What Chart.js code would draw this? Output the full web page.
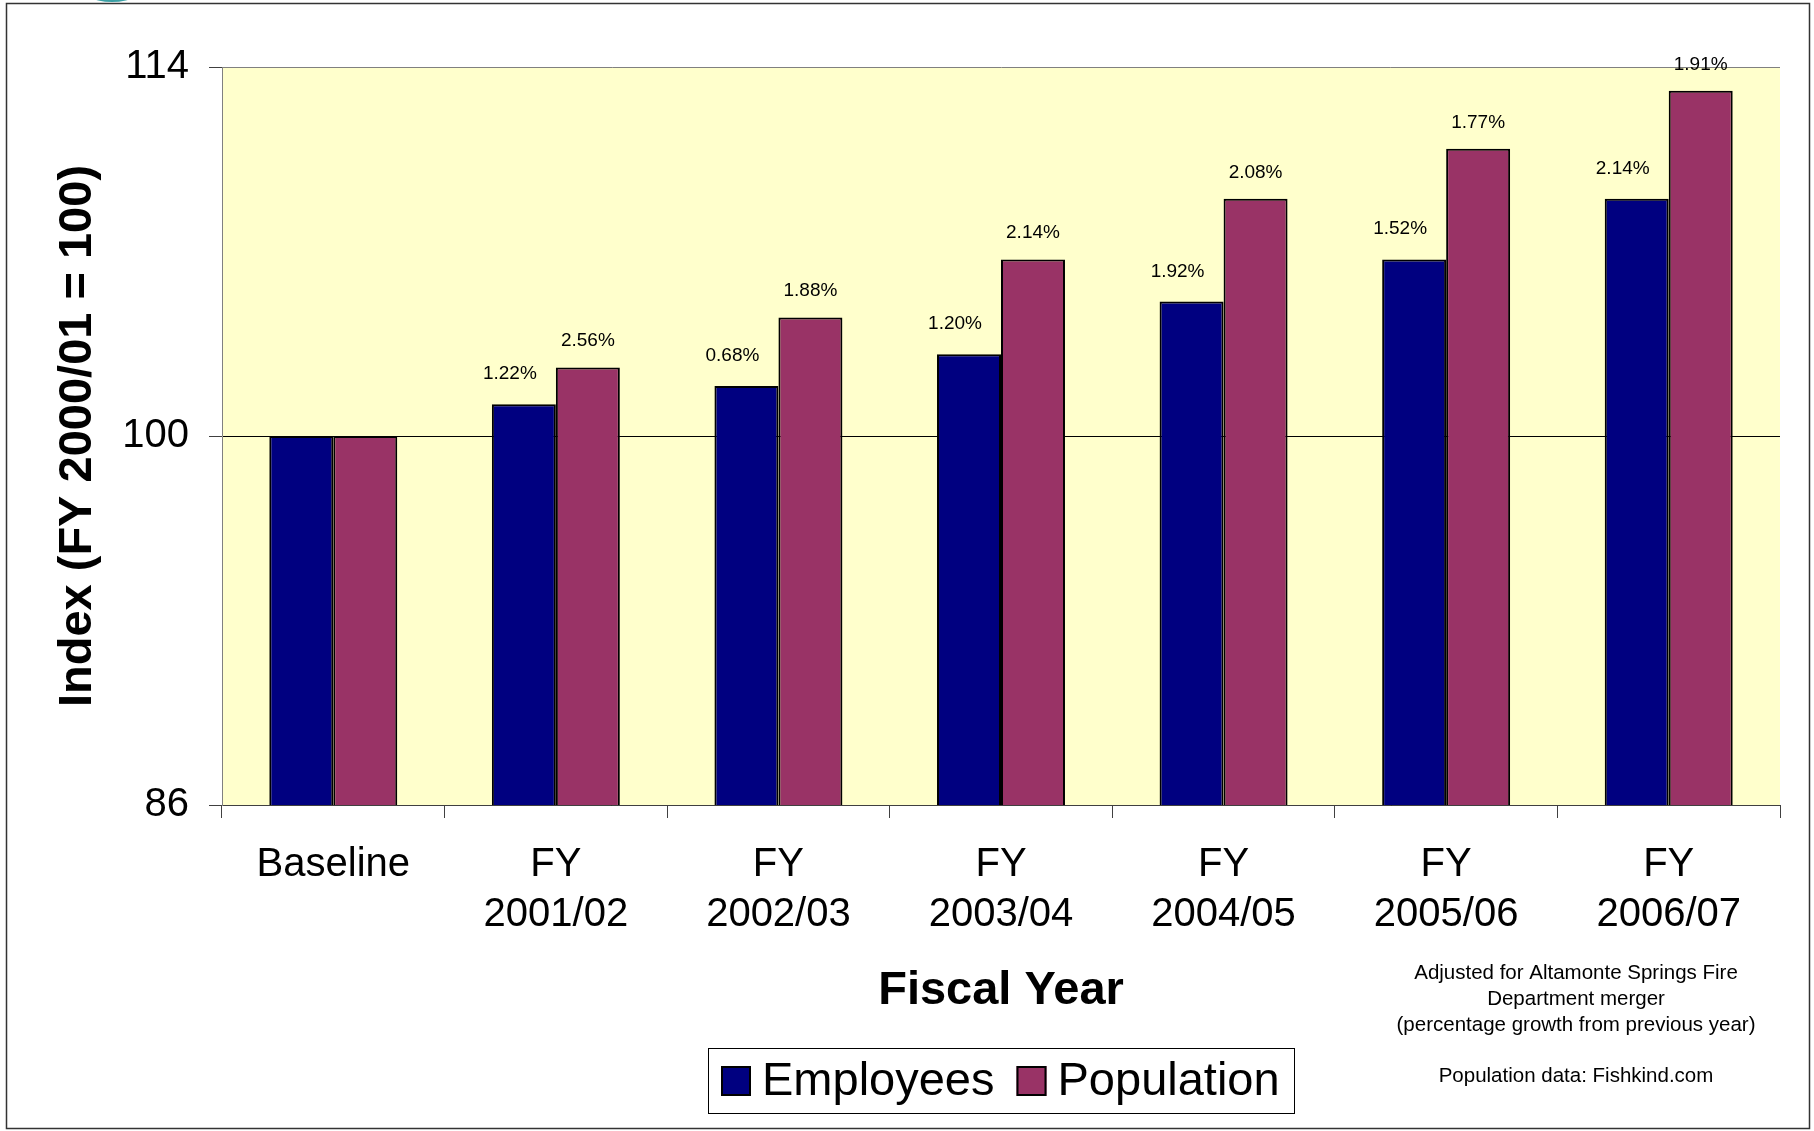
<!DOCTYPE html>
<html>
<head>
<meta charset="utf-8">
<script src="https://cdn.jsdelivr.net/npm/chart.js@4"></script>
<style>
  html, body { margin: 0; padding: 0; background: #fff; }
  #wrap { width: 1814px; height: 1131px; position: relative; }
</style>
</head>
<body>
<div id="wrap"><canvas id="indexChart"></canvas></div>
<script>
// data
const categories = ['Baseline', ['FY', '2001/02'], ['FY', '2002/03'], ['FY', '2003/04'], ['FY', '2004/05'], ['FY', '2005/06'], ['FY', '2006/07']];
const employees = [100, 101.2, 101.9, 103.1, 105.1, 106.7, 109.0];
const population = [100, 102.6, 104.5, 106.7, 109.0, 110.9, 113.1];
const employeeGrowth = ['', '1.22%', '0.68%', '1.20%', '1.92%', '1.52%', '2.14%'];
const populationGrowth = ['', '2.56%', '1.88%', '2.14%', '2.08%', '1.77%', '1.91%'];
const yTicks = [86, 100, 114];
const notes = ['Adjusted for Altamonte Springs Fire', 'Department merger', '(percentage growth from previous year)', '', 'Population data: Fishkind.com'];

const FONT = '"Liberation Sans", Arial, Helvetica, sans-serif';

// plot background, data labels, legend box, footnote, frame
const decorations = {
    id: 'decorations',
    beforeDraw(chart) {
        const { ctx, chartArea: a } = chart;
        ctx.save();
        ctx.fillStyle = '#FFFFCC';
        ctx.fillRect(a.left, a.top, a.right - a.left, a.bottom - a.top);
        ctx.restore();
    },
    afterDatasetsDraw(chart) {
        const ctx = chart.ctx;
        const labelSets = [employeeGrowth, populationGrowth];
        const shifts = [[-14, 25], [0, 21]];
        ctx.save();
        ctx.font = '19px ' + FONT;
        ctx.fillStyle = '#000';
        ctx.textAlign = 'center';
        ctx.textBaseline = 'alphabetic';
        chart.data.datasets.forEach((ds, i) => {
            chart.getDatasetMeta(i).data.forEach((bar, j) => {
                const txt = labelSets[i][j];
                if (txt) ctx.fillText(txt, bar.x + shifts[i][0], bar.y - shifts[i][1]);
            });
        });
        ctx.restore();
    },
    afterDraw(chart) {
        const { ctx, chartArea: a } = chart;
        ctx.save();

        // legend
        ctx.font = '47px ' + FONT;
        ctx.textBaseline = 'middle';
        const box = 30, gapIn = 11, gapOut = 22, padL = 13, padR = 14;
        let total = padL + padR;
        chart.data.datasets.forEach((ds, i) => {
            total += box + gapIn + ctx.measureText(ds.label).width + (i ? 0 : gapOut);
        });
        const cx = (a.left + a.right) / 2;
        let x = Math.round(cx - total / 2);
        const top = 1048, h = 65;
        ctx.strokeStyle = '#000';
        ctx.lineWidth = 1;
        ctx.strokeRect(x + 0.5, top + 0.5, Math.round(total), h);
        x += padL;
        chart.data.datasets.forEach((ds, i) => {
            ctx.fillStyle = ds.backgroundColor;
            ctx.fillRect(x, top + 18, box, box);
            ctx.lineWidth = 2;
            ctx.strokeRect(x + 1, top + 19, box - 2, box - 2);
            x += box + gapIn;
            ctx.fillStyle = '#000';
            ctx.textAlign = 'left';
            ctx.fillText(ds.label, x, top + 34);
            x += ctx.measureText(ds.label).width + gapOut;
        });

        // footnote
        ctx.font = '20.5px ' + FONT;
        ctx.textAlign = 'center';
        ctx.textBaseline = 'alphabetic';
        notes.forEach((line, i) => {
            if (line) ctx.fillText(line, 1576, 979 + i * 25.8);
        });

        // bit of a logo poking in at the top
        ctx.fillStyle = '#3a9fa4';
        ctx.beginPath();
        ctx.ellipse(112, -18, 36, 20, 0, 0, Math.PI * 2);
        ctx.fill();

        // outer frame
        ctx.strokeStyle = '#333';
        ctx.lineWidth = 1.5;
        ctx.strokeRect(6.5, 3.5, 1803, 1125);
        ctx.restore();
    }
};

new Chart(document.getElementById('indexChart').getContext('2d'), {
    type: 'bar',
    data: {
        labels: categories,
        datasets: [{
            label: 'Employees',
            data: employees,
            backgroundColor: '#000080',
            borderColor: '#000',
            borderWidth: 2
        }, {
            label: 'Population',
            data: population,
            backgroundColor: '#993366',
            borderColor: '#000',
            borderWidth: 2
        }]
    },
    options: {
        responsive: true,
        maintainAspectRatio: false,
        animation: false,
        layout: { padding: { left: 0, top: 67, right: 34, bottom: 106 } },
        datasets: { bar: { categoryPercentage: 0.575, barPercentage: 1.0 } },
        plugins: {
            legend: { display: false },
            tooltip: { enabled: false }
        },
        scales: {
            x: {
                afterFit: s => { s.height = 220; },
                grid: { drawOnChartArea: false, tickLength: 13, color: '#404040' },
                border: { color: '#404040', width: 1 },
                ticks: {
                    color: '#000',
                    padding: 22,
                    font: { family: FONT, size: 40, lineHeight: 1.25 },
                    maxRotation: 0,
                    autoSkip: false
                },
                title: {
                    display: true,
                    text: 'Fiscal Year',
                    color: '#000',
                    font: { family: FONT, size: 47, weight: 'bold' },
                    padding: { top: 0, bottom: 6 }
                }
            },
            y: {
                min: 86,
                max: 114,
                afterFit: s => { s.width = 222; },
                afterBuildTicks: s => { s.ticks = yTicks.map(v => ({ value: v })); },
                grid: {
                    tickLength: 13,
                    color: c => (c.tick && c.tick.value === 114 ? '#808080' : '#000'),
                    tickColor: '#404040'
                },
                border: { color: '#808080', width: 1 },
                ticks: {
                    color: '#000',
                    padding: 20,
                    font: { family: FONT, size: 40 }
                },
                title: {
                    display: true,
                    text: 'Index (FY 2000/01 = 100)',
                    color: '#000',
                    font: { family: FONT, size: 47, weight: 'bold' },
                    padding: { top: 50, bottom: 0 }
                }
            }
        }
    },
    plugins: [decorations]
});
</script>
</body>
</html>
